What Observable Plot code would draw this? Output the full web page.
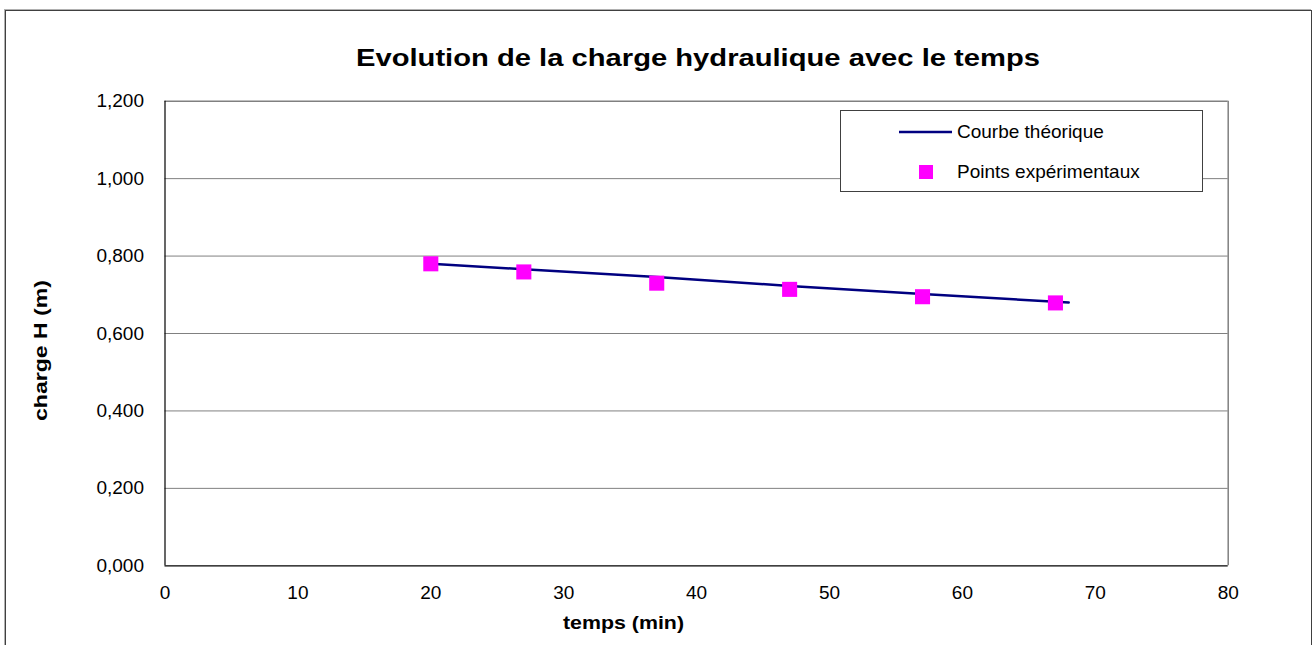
<!DOCTYPE html>
<html>
<head>
<meta charset="utf-8">
<script src="https://cdn.jsdelivr.net/npm/d3@7"></script>
<script src="https://cdn.jsdelivr.net/npm/@observablehq/plot@0.6"></script>
<style>
  html, body { margin: 0; padding: 0; background: #fff; }
  body { width: 1316px; height: 645px; position: relative; overflow: hidden; font-family: Arial, "Liberation Sans", sans-serif; }
  #frame { position: absolute; left: 5px; top: 10px; width: 1305px; height: 700px; border: 1px solid #404040; box-shadow: -1px -1px 0 #b0b0b0; }
  #chart { position: absolute; left: 0; top: 0; }
  #texts { position: absolute; left: 0; top: 0; pointer-events: none; }
  #legend { position: absolute; left: 840px; top: 110px; width: 361px; height: 80px; border: 1px solid #404040; background: #fff; font-size: 19px; }
  #legend .row { position: absolute; left: 0; height: 30px; width: 100%; }
  #legend .txt { position: absolute; left: 116px; top: 50%; transform: translateY(-50%); white-space: nowrap; }
</style>
</head>
<body>
<div id="frame"></div>
<div id="chart"></div>
<svg id="texts" width="1316" height="645" font-family='Arial, "Liberation Sans", sans-serif' font-weight="bold">
  <text x="356" y="65.7" font-size="24" textLength="684" lengthAdjust="spacingAndGlyphs">Evolution de la charge hydraulique avec le temps</text>
  <text x="563" y="629" font-size="18" textLength="121" lengthAdjust="spacingAndGlyphs">temps (min)</text>
  <text transform="translate(46.5,421) rotate(-90)" font-size="18" textLength="141" lengthAdjust="spacingAndGlyphs">charge H (m)</text>
</svg>
<div id="legend"></div>
<script>
// Data
const timeExp = [20, 27, 37, 47, 57, 67];
const chargeExp = [0.780, 0.759, 0.730, 0.714, 0.695, 0.679];
const timeTheo = [20, 27, 37, 47, 57, 68];
const chargeTheo = [0.780, 0.766, 0.746, 0.723, 0.702, 0.680];
const xTicks = [0, 10, 20, 30, 40, 50, 60, 70, 80];
const yTicks = [0, 0.2, 0.4, 0.6, 0.8, 1.0, 1.2];
const seriesNames = ["Courbe théorique", "Points expérimentaux"];

const lineColor = "#000080";
const pointColor = "#ff00ff";

const theo = timeTheo.map((t, i) => ({t, h: chargeTheo[i]}));
const exp = timeExp.map((t, i) => ({t, h: chargeExp[i]}));

const fmt = d => d.toFixed(3).replace(".", ",");

const chart = Plot.plot({
  width: 1316,
  height: 645,
  marginLeft: 164.5,
  marginRight: 88.3,
  marginTop: 100.7,
  marginBottom: 79.7,
  style: {fontSize: "19px", fontFamily: 'Arial, "Liberation Sans", sans-serif', color: "#000", background: "transparent", overflow: "visible"},
  x: {domain: [0, 80], ticks: xTicks, tickSize: 0, tickPadding: 20, label: null},
  y: {domain: [0, 1.2], ticks: yTicks, tickSize: 0, tickPadding: 21, tickFormat: fmt, label: null},
  marks: [
    Plot.ruleY(yTicks.filter(d => d > 0 && d < 1.2), {stroke: "#808080", strokeWidth: 1}),
    Plot.ruleY([1.2], {stroke: "#808080", strokeWidth: 1.5}),
    Plot.ruleX([80], {stroke: "#808080", strokeWidth: 1.5}),
    Plot.ruleX([0], {stroke: "#000", strokeWidth: 1.2}),
    Plot.ruleY([0], {stroke: "#000", strokeWidth: 1.2}),
    Plot.line(theo, {x: "t", y: "h", stroke: lineColor, strokeWidth: 2.5}),
    Plot.dot(exp, {x: "t", y: "h", symbol: "square", r: 8.5, fill: pointColor, stroke: "none"})
  ]
});
document.getElementById("chart").appendChild(chart);

// Legend
const legend = d3.select("#legend");
const r1 = legend.append("div").attr("class", "row").style("top", "6px");
r1.append("svg").attr("width", 60).attr("height", 30).style("position", "absolute").style("left", "57px").style("top", "0px")
  .append("line").attr("x1", 1).attr("x2", 54).attr("y1", 15).attr("y2", 15).attr("stroke", lineColor).attr("stroke-width", 2.5);
r1.append("div").attr("class", "txt").text(seriesNames[0]);
const r2 = legend.append("div").attr("class", "row").style("top", "46px");
r2.append("svg").attr("width", 30).attr("height", 30).style("position", "absolute").style("left", "70px").style("top", "0px")
  .append("rect").attr("x", 8).attr("y", 8).attr("width", 14).attr("height", 14).attr("fill", pointColor);
r2.append("div").attr("class", "txt").text(seriesNames[1]);
</script>
</body>
</html>
